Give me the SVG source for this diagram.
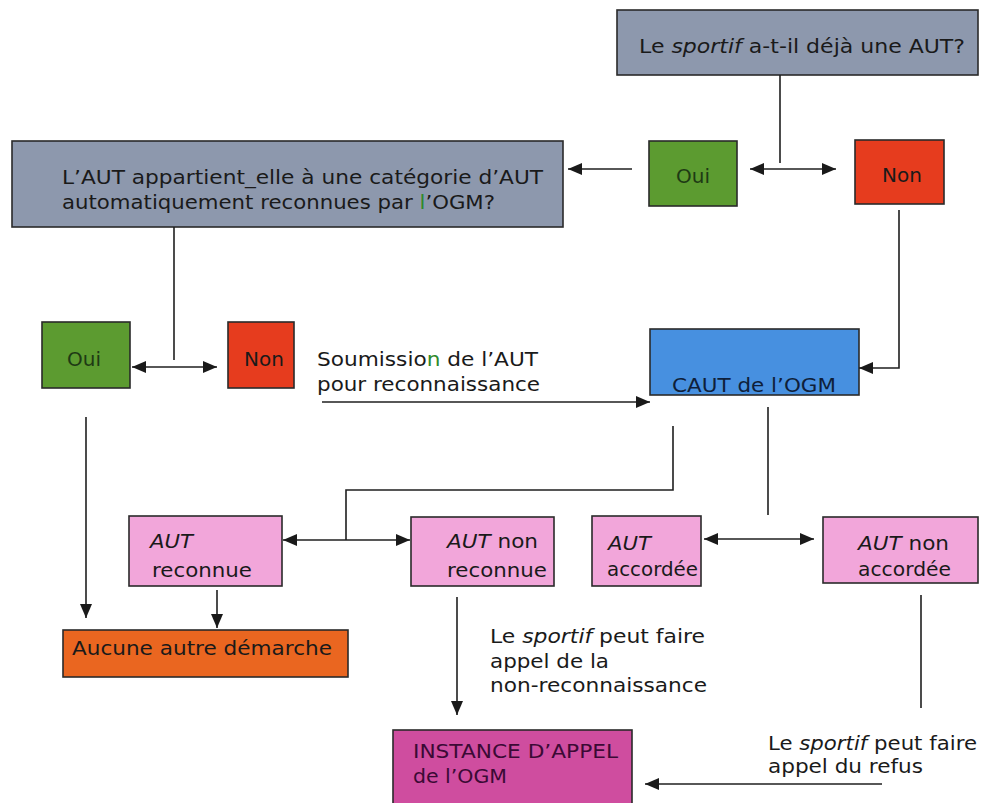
<svg xmlns="http://www.w3.org/2000/svg" width="982" height="803" viewBox="0 0 982 803">
<defs>
<marker id="ah" markerUnits="userSpaceOnUse" markerWidth="14" markerHeight="12" refX="14" refY="6" orient="auto-start-reverse"><path d="M0,0 L14,6 L0,12 z" fill="#1a1a1a"/></marker>
</defs>
<style>
.box{stroke:#2a2a2a;stroke-width:1.6}
.gray{fill:#8d98ad}
.green{fill:#5c9b30}
.red{fill:#e63c1e}
.blue{fill:#4790e0}
.pink{fill:#f2a6da}
.orange{fill:#ea6620}
.magenta{fill:#cf4d9f}
text{font-family:"DejaVu Sans",Verdana,sans-serif;font-size:20px;fill:#1a1a1a}
.it{font-style:italic}
.mid{text-anchor:middle}
.gt{fill:#2f8a2a}
.oui{fill:#1e3a14}
.conn path{fill:none;stroke:#1f1f1f;stroke-width:1.6}
</style>
<rect x="0" y="0" width="982" height="803" fill="#ffffff"/>

<g id="q1">
<rect class="box gray" x="617" y="10" width="361" height="65"/>
<text x="639" y="53" textLength="326" lengthAdjust="spacingAndGlyphs">Le <tspan class="it">sportif</tspan> a-t-il déjà une AUT?</text>
</g>
<g id="oui1">
<rect class="box green" x="649" y="141" width="88" height="65"/>
<text class="mid oui" x="693" y="183">Oui</text>
</g>
<g id="non1">
<rect class="box red" x="855" y="140" width="89" height="64"/>
<text class="mid" x="902" y="182">Non</text>
</g>
<g id="q2">
<rect class="box gray" x="12" y="141" width="551" height="86"/>
<text x="62" y="184" textLength="481" lengthAdjust="spacingAndGlyphs">L’AUT appartient_elle à une catégorie d’AUT</text>
<text x="62" y="209" textLength="433" lengthAdjust="spacingAndGlyphs">automatiquement reconnues par <tspan class="gt">l</tspan>’OGM?</text>
</g>
<g id="oui2">
<rect class="box green" x="42" y="322" width="88" height="66"/>
<text class="mid oui" x="84" y="366">Oui</text>
</g>
<g id="non2">
<rect class="box red" x="228" y="322" width="66" height="66"/>
<text class="mid" x="264" y="366">Non</text>
</g>
<g id="caut">
<rect class="box blue" x="650" y="329" width="209" height="66"/>
<text x="672" y="392" textLength="164" lengthAdjust="spacingAndGlyphs" style="fill:#0f1f3a">CAUT de l’OGM</text>
</g>
<g id="aut-reconnue">
<rect class="box pink" x="129" y="516" width="153" height="70"/>
<text class="it" x="150" y="548" textLength="43" lengthAdjust="spacingAndGlyphs">AUT</text>
<text x="152" y="577" textLength="100" lengthAdjust="spacingAndGlyphs">reconnue</text>
</g>
<g id="aut-non-reconnue">
<rect class="box pink" x="411" y="517" width="143" height="69"/>
<text x="447" y="548" textLength="91" lengthAdjust="spacingAndGlyphs"><tspan class="it">AUT</tspan> non</text>
<text x="447" y="577" textLength="100" lengthAdjust="spacingAndGlyphs">reconnue</text>
</g>
<g id="aut-accordee">
<rect class="box pink" x="592" y="516" width="109" height="70"/>
<text class="it" x="608" y="550" textLength="43" lengthAdjust="spacingAndGlyphs">AUT</text>
<text x="607" y="576" textLength="91" lengthAdjust="spacingAndGlyphs">accordée</text>
</g>
<g id="aut-non-accordee">
<rect class="box pink" x="823" y="517" width="155" height="66"/>
<text x="858" y="550" textLength="91" lengthAdjust="spacingAndGlyphs"><tspan class="it">AUT</tspan> non</text>
<text x="858" y="576" textLength="93" lengthAdjust="spacingAndGlyphs">accordée</text>
</g>
<g id="aucune">
<rect class="box orange" x="63" y="630" width="285" height="47"/>
<text x="72" y="655" textLength="260" lengthAdjust="spacingAndGlyphs">Aucune autre démarche</text>
</g>
<g id="instance">
<rect class="box magenta" x="393" y="730" width="239" height="85"/>
<text x="413" y="758" textLength="205" lengthAdjust="spacingAndGlyphs" style="fill:#3b0a35">INSTANCE D’APPEL</text>
<text x="413" y="783" textLength="94" lengthAdjust="spacingAndGlyphs" style="fill:#3b0a35">de l’OGM</text>
</g>

<g id="labels">
<text x="317" y="366" textLength="221" lengthAdjust="spacingAndGlyphs">Soumissio<tspan class="gt">n</tspan> de l’AUT</text>
<text x="317" y="391" textLength="223" lengthAdjust="spacingAndGlyphs">pour reconnaissance</text>
<text x="490" y="643" textLength="215" lengthAdjust="spacingAndGlyphs">Le <tspan class="it">sportif</tspan> peut faire</text>
<text x="490" y="668" textLength="119" lengthAdjust="spacingAndGlyphs">appel de la</text>
<text x="490" y="692" textLength="217" lengthAdjust="spacingAndGlyphs">non-reconnaissance</text>
<text x="768" y="750" textLength="209" lengthAdjust="spacingAndGlyphs">Le <tspan class="it">sportif</tspan> peut faire</text>
<text x="768" y="773" textLength="155" lengthAdjust="spacingAndGlyphs">appel du refus</text>
</g>

<g class="conn" id="connectors">
<path d="M780,75 V163"/>
<path d="M750,169 H836" marker-start="url(#ah)" marker-end="url(#ah)"/>
<path d="M632,169 H568" marker-end="url(#ah)"/>
<path d="M174,227 V360"/>
<path d="M132,367 H217" marker-start="url(#ah)" marker-end="url(#ah)"/>
<path d="M86,417 V618" marker-end="url(#ah)"/>
<path d="M322,402 H650" marker-end="url(#ah)"/>
<path d="M899,210 V368 H859" marker-end="url(#ah)"/>
<path d="M673,426 V490 H346 V540"/>
<path d="M283,540 H410" marker-start="url(#ah)" marker-end="url(#ah)"/>
<path d="M768,407 V515"/>
<path d="M704,539 H814" marker-start="url(#ah)" marker-end="url(#ah)"/>
<path d="M217,590 V628" marker-end="url(#ah)"/>
<path d="M457,597 V715" marker-end="url(#ah)"/>
<path d="M921,595 V708"/>
<path d="M882,784 H645" marker-end="url(#ah)"/>
</g>
</svg>
